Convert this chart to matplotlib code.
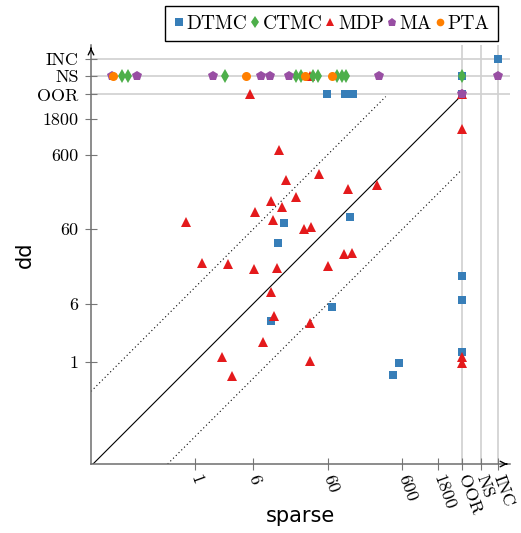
import matplotlib.pyplot as plt
from matplotlib.ticker import NullLocator

# positions of the special result categories on the log axes
OOR, NS, INC = 3850, 6800, 11500
TIMEOUT = 3600

# DTMC
dtmc_x = [15.6, 13.0, 120, 10.4, 68.6, 543, 451, OOR, OOR, OOR, 58.8, 102, 131, OOR, OOR, INC]
dtmc_y = [73, 39, 88, 3.5, 5.5, 0.97, 0.67, 14.2, 6.8, 1.36, OOR, OOR, OOR, OOR, NS, INC]
# CTMC
ctmc_x = [0.105, 0.126, 2.52, 22.6, 26.4, 38.2, 44.6, 80, 93.4, 106, OOR]
ctmc_y = [NS, NS, NS, NS, NS, NS, NS, NS, NS, NS, NS]
# MDP
mdp_x = [13.4, 0.76, 16.6, 10.4, 6.4, 14.7, 22.6, 11.1, 45.9, 112, 275, 28.9, 35.9,
         99.4, 127, 60.7, 1.24, 2.77, 6.18, 12.6, 10.4, 11.5, 8.2, 2.3, 3.13, 34.8,
         34.8, OOR, OOR, OOR, 5.46, 34.8, OOR]
mdp_y = [695, 75, 275, 144, 102, 120, 163, 80, 331, 208, 236, 60.6, 64.5,
         28, 28.9, 19.4, 21.2, 20.6, 17.7, 18.2, 8.7, 4.1, 1.85, 1.17, 0.65, 3.33,
         1.03, 1330, 1.17, 0.97, OOR, NS, OOR]
# MA
ma_x = [0.077, 0.167, 1.74, 7.67, 10.1, 18.2, 293, INC, OOR]
ma_y = [NS, NS, NS, NS, NS, NS, NS, NS, OOR]
# PTA
pta_x = [0.080, 4.83, 29.8, 68.6]
pta_y = [NS, NS, NS, NS]

tick_vals = [1, 6, 60, 600, 1800, OOR, NS, INC]
tick_labels = ['1', '6', '60', '600', '1800', 'OOR', 'NS', 'INC']

plt.rcParams['font.family'] = 'cmr10'

fig = plt.figure(figsize=(5.21, 5.33), dpi=100)
ax = fig.add_axes([91 / 521, 1 - 464 / 533, 419 / 521, 419 / 533])
ax.set_xscale('log')
ax.set_yscale('log')
xmin, ymin = 0.0403, 0.0429
ax.set_xlim(xmin, 16700)
ax.set_ylim(ymin, 17700)

# reference lines for the special categories
for v in (OOR, NS, INC):
    ax.axvline(v, color='#d0d0d0', lw=1.2, zorder=0)
    ax.axhline(v, color='#d0d0d0', lw=1.2, zorder=0)

# diagonal and factor-10 lines
ax.plot([xmin, TIMEOUT], [xmin, TIMEOUT], color='black', lw=0.8, zorder=1)
ax.plot([xmin, TIMEOUT / 10], [xmin * 10, TIMEOUT], color='black', lw=0.8,
        ls=(0, (1, 2.5)), zorder=1)
ax.plot([ymin * 10, TIMEOUT], [ymin, TIMEOUT / 10], color='black', lw=0.8,
        ls=(0, (1, 2.5)), zorder=1)

h_dtmc, = ax.plot(dtmc_x, dtmc_y, 's', color='#377eb8', ms=6, mew=0, label='DTMC', zorder=3)
h_mdp, = ax.plot(mdp_x, mdp_y, '^', color='#e41a1c', ms=7.5, mew=0, label='MDP', zorder=3)
h_ctmc, = ax.plot(ctmc_x, ctmc_y, 'd', color='#4daf4a', ms=7.5, mew=0, label='CTMC', zorder=3)
h_ma, = ax.plot(ma_x, ma_y, 'p', color='#984ea3', ms=7.5, mew=0, label='MA', zorder=3)
h_pta, = ax.plot(pta_x, pta_y, 'o', color='#ff7f00', ms=6.5, mew=0, label='PTA', zorder=3)

ax.set_xticks(tick_vals, tick_labels)
ax.set_yticks(tick_vals, tick_labels)
ax.xaxis.set_minor_locator(NullLocator())
ax.yaxis.set_minor_locator(NullLocator())
ax.tick_params(direction='inout', length=8, width=0.8, color='#777777', labelsize=13)
ax.tick_params(axis='y', pad=5)
ax.tick_params(axis='x', pad=4)
for lbl in ax.get_xticklabels():
    lbl.set_rotation(-70)
    lbl.set_ha('left')
    lbl.set_va('center')
    lbl.set_rotation_mode('anchor')

for s in ('top', 'right'):
    ax.spines[s].set_visible(False)
for s in ('left', 'bottom'):
    ax.spines[s].set_color('#6e6e6e')
    ax.spines[s].set_linewidth(1.1)

# axis arrows
ax.annotate('', xy=(1.0, 0), xytext=(0.985, 0), xycoords='axes fraction',
            arrowprops=dict(arrowstyle='->', color='black', lw=1, mutation_scale=10))
ax.annotate('', xy=(0, 1.0), xytext=(0, 0.985), xycoords='axes fraction',
            arrowprops=dict(arrowstyle='->', color='black', lw=1, mutation_scale=10))

ax.set_xlabel('sparse', fontfamily='DejaVu Sans', fontsize=15)
ax.set_ylabel('dd', fontfamily='DejaVu Sans', fontsize=15)
ax.xaxis.set_label_coords(0.5, -0.1)
ax.yaxis.set_label_coords(-0.135, 0.5)

leg = fig.legend([h_dtmc, h_ctmc, h_mdp, h_ma, h_pta], ['DTMC', 'CTMC', 'MDP', 'MA', 'PTA'],
                 loc='upper left', bbox_to_anchor=(165 / 521, 1 - 6 / 533), ncol=5,
                 fancybox=False, edgecolor='black', framealpha=1, fontsize=14,
                 handlelength=0.5, handletextpad=0.15, columnspacing=0.15,
                 borderpad=0.45, borderaxespad=0, markerscale=0.85)
leg.get_frame().set_linewidth(1.0)

fig.savefig('out.png', dpi=100)
